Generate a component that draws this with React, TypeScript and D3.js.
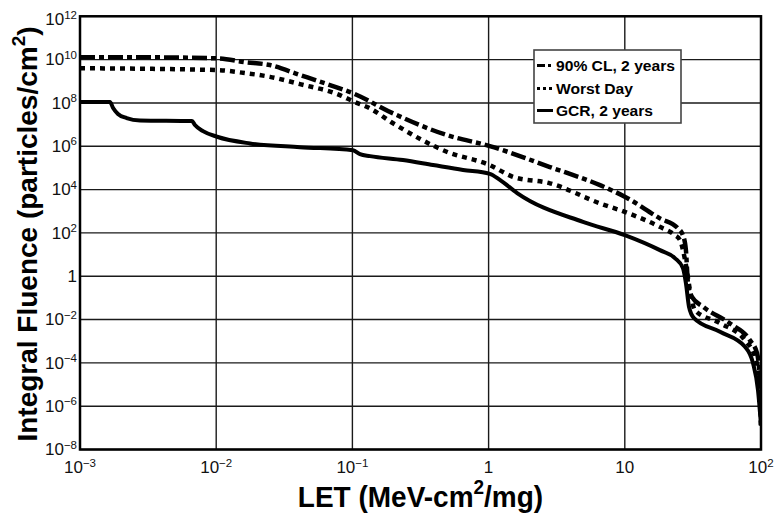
import React from "react";
import * as d3 from "d3";

// LET in MeV-cm²/mg, integral fluence in particles/cm²
const cl90Let = [0.001, 0.00327, 0.01014, 0.01626, 0.0248, 0.0412, 0.0684, 0.101, 0.199, 0.492, 1.02, 2.82, 6.58, 10.0, 18.1, 24.5, 26.7, 28.1, 29.1, 31.1, 37.5, 59.2, 83, 93.5, 98.4, 100];
const cl90Fluence = [1.3e10, 1.28e10, 1.15e10, 7.7e9, 5.6e9, 1.95e9, 6.7e8, 2.8e8, 3.3e7, 3.3e6, 1.02e6, 1.1e5, 1.6e4, 4.7e3, 470, 165, 79, 16, 0.48, 0.11, 0.039, 6.6e-3, 1.1e-3, 2.8e-4, 1.15e-5, 1.3e-7];

const worstLet = [0.001, 0.01014, 0.01626, 0.0248, 0.0412, 0.081, 0.101, 0.1346, 0.199, 0.492, 1.02, 1.51, 2.82, 6.58, 10.0, 18.1, 23.3, 25.4, 27.7, 30.1, 32.7, 50, 76.3, 90.3, 98.4, 100];
const worstFluence = [4.0e9, 3.3e9, 2.4e9, 1.6e9, 7.4e8, 2.3e8, 1.2e8, 5.6e7, 1.15e7, 5.6e5, 1.35e5, 3.9e4, 1.95e4, 2.3e3, 930, 190, 79, 47, 5.6, 0.23, 0.027, 6.8e-3, 1.1e-3, 1.9e-4, 1.15e-5, 1.3e-7];

const gcrLet = [0.001, 0.00166, 0.00175, 0.0019, 0.0022, 0.00276, 0.00664, 0.00698, 0.008, 0.01014, 0.0177, 0.0412, 0.101, 0.1137, 0.1346, 0.235, 0.391, 0.649, 1.02, 1.21, 1.62, 4.93, 10.0, 18.1, 23.3, 26.7, 28.1, 29.6, 32.2, 50, 76.3, 87.3, 95, 100];
const gcrFluence = [1.1e8, 1.1e8, 5.8e7, 3.1e7, 2.0e7, 1.55e7, 1.45e7, 9.5e6, 5.0e6, 2.75e6, 1.35e6, 9.1e5, 6.6e5, 4.3e5, 3.5e5, 2.3e5, 1.35e5, 8.0e4, 5.3e4, 2.8e4, 6.9e3, 320, 79, 16, 6.9, 2.4, 0.48, 0.039, 0.0116, 2.7e-3, 5.5e-4, 9.8e-5, 5.5e-6, 1.3e-7];

const xTickValues = [1e-3, 1e-2, 1e-1, 1, 10, 100];
const xTickBase = ["10", "10", "10", "1", "10", "10"];
const xTickExp = ["\u22123", "\u22122", "\u22121", "", "", "2"];

const yTickValues = [1e12, 1e10, 1e8, 1e6, 1e4, 1e2, 1, 1e-2, 1e-4, 1e-6, 1e-8];
const yTickBase = ["10", "10", "10", "10", "10", "10", "1", "10", "10", "10", "10"];
const yTickExp = ["12", "10", "8", "6", "4", "2", "", "\u22122", "\u22124", "\u22126", "\u22128"];

const seriesNames = ["90% CL, 2 years", "Worst Day", "GCR, 2 years"];
const legendWidths = [119, 77, 97];

const W = 776;
const H = 514;
const plot = { left: 80, right: 761, top: 16.3, bottom: 449.5 };
const FONT = "'Liberation Sans', Arial, sans-serif";

export default function App() {
  const x = d3.scaleLog().domain([1e-3, 100]).range([plot.left, plot.right]);
  const y = d3.scaleLog().domain([1e-8, 1e12]).range([plot.bottom, plot.top]);

  const line = d3
    .line<[number, number]>()
    .x((d) => x(d[0]))
    .y((d) => y(d[1]))
    .curve(d3.curveMonotoneX);

  const pairs = (a: number[], b: number[]) => a.map((v, i) => [v, b[i]] as [number, number]);

  const series = [
    { name: seriesNames[0], d: line(pairs(cl90Let, cl90Fluence)), dash: "15,4,5,4", width: 4.5 },
    { name: seriesNames[1], d: line(pairs(worstLet, worstFluence)), dash: "5,5", width: 4.5 },
    { name: seriesNames[2], d: line(pairs(gcrLet, gcrFluence)), dash: "none", width: 4 },
  ];

  const legend = { x: 534, y: 50, w: 147, h: 73 };
  const legendRows = [65.5, 88.5, 110.5];
  const legendDash = ["8,3,3,3", "3,3", "none"];

  return (
    <svg
      width={W}
      height={H}
      style={{ position: "absolute", left: 0, top: 0, display: "block", background: "#fff" }}
      fontFamily={FONT}
    >
      <defs>
        <clipPath id="plot-clip">
          <rect x={plot.left} y={plot.top} width={plot.right - plot.left} height={plot.bottom - plot.top} />
        </clipPath>
      </defs>
      <rect x={0} y={0} width={W} height={H} fill="#fff" />

      {/* grid */}
      {xTickValues.map((v, i) => (
        <line key={"gx" + i} x1={x(v)} x2={x(v)} y1={plot.top} y2={plot.bottom} stroke="#1a1a1a" strokeWidth={1.4} />
      ))}
      {yTickValues.map((v, i) => (
        <line key={"gy" + i} x1={plot.left} x2={plot.right} y1={y(v)} y2={y(v)} stroke="#1a1a1a" strokeWidth={1.4} />
      ))}

      {/* curves */}
      <g clipPath="url(#plot-clip)">
        {series.map((s) => (
          <path
            key={s.name}
            d={s.d || ""}
            fill="none"
            stroke="#000"
            strokeWidth={s.width}
            strokeDasharray={s.dash}
            strokeLinejoin="round"
          />
        ))}
      </g>

      {/* frame */}
      <rect
        x={plot.left}
        y={plot.top}
        width={plot.right - plot.left}
        height={plot.bottom - plot.top}
        fill="none"
        stroke="#000"
        strokeWidth={2.5}
      />

      {/* x tick labels */}
      {xTickValues.map((v, i) => (
        <text key={"tx" + i} x={x(v)} y={473} textAnchor="middle" fontSize={17} fill="#111">
          {xTickBase[i]}
          {xTickExp[i] && (
            <tspan dy={-6.5} fontSize={11.5}>
              {xTickExp[i]}
            </tspan>
          )}
        </text>
      ))}

      {/* y tick labels */}
      {yTickValues.map((v, i) => (
        <text key={"ty" + i} x={77} y={Math.max(y(v) + 5.7, 25)} textAnchor="end" fontSize={17} fill="#111">
          {yTickBase[i]}
          {yTickExp[i] && (
            <tspan dy={-6.5} fontSize={11.5}>
              {yTickExp[i]}
            </tspan>
          )}
        </text>
      ))}

      {/* axis titles */}
      <text
        transform="translate(420.5,507) scale(1,1.08)"
        textAnchor="middle"
        fontSize={28}
        fontWeight="bold"
        fill="#000"
      >
        LET (MeV-cm
        <tspan dy={-12} fontSize={19}>
          2
        </tspan>
        <tspan dy={12}>/mg)</tspan>
      </text>
      <text
        transform="translate(37,234) rotate(-90)"
        textAnchor="middle"
        fontSize={28}
        fontWeight="bold"
        fill="#000"
      >
        Integral Fluence (particles/cm
        <tspan dy={-12} fontSize={19}>
          2
        </tspan>
        <tspan dy={12}>)</tspan>
      </text>

      {/* legend */}
      <rect x={legend.x} y={legend.y} width={legend.w} height={legend.h} fill="#fff" stroke="#444" strokeWidth={1.6} />
      {seriesNames.map((name, i) => (
        <g key={"lg" + i}>
          <line
            x1={537}
            x2={553}
            y1={legendRows[i]}
            y2={legendRows[i]}
            stroke="#000"
            strokeWidth={3}
            strokeDasharray={legendDash[i]}
          />
          <text
            x={556}
            y={legendRows[i] + 5}
            fontSize={14}
            fontWeight="bold"
            textLength={legendWidths[i]}
            lengthAdjust="spacingAndGlyphs"
            fill="#000"
          >
            {name}
          </text>
        </g>
      ))}
    </svg>
  );
}
